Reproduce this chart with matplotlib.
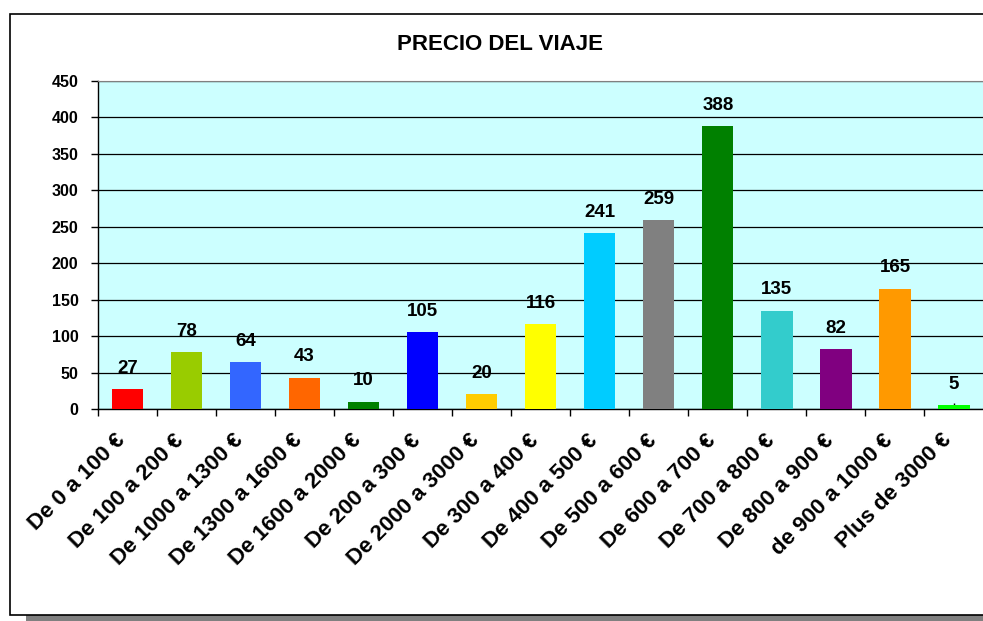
import matplotlib
matplotlib.use("Agg")
import matplotlib.pyplot as plt
from matplotlib.patches import Rectangle
from matplotlib.transforms import ScaledTranslation
import numpy as np

plt.rcParams['font.family'] = ['Liberation Sans', 'DejaVu Sans']
plt.rcParams['font.weight'] = 'bold'

categories = ["De 0 a 100 €", "De 100 a 200 €", "De 1000 a 1300 €", "De 1300 a 1600 €",
              "De 1600 a 2000 €", "De 200 a 300 €", "De 2000 a 3000 €", "De 300 a 400 €",
              "De 400 a 500 €", "De 500 a 600 €", "De 600 a 700 €", "De 700 a 800 €",
              "De 800 a 900 €", "de 900 a 1000 €", "Plus de 3000 €"]
values = [27, 78, 64, 43, 10, 105, 20, 116, 241, 259, 388, 135, 82, 165, 5]
bar_colors = ["#FF0000", "#99CC00", "#3366FF", "#FF6600", "#008000", "#0000FF", "#FFCC00",
              "#FFFF00", "#00CCFF", "#808080", "#008000", "#33CCCC", "#800080", "#FF9900",
              "#00FF00"]
y_ticks = list(range(0, 451, 50))
title = "PRECIO DEL VIAJE"

W, H = 983, 621
fig = plt.figure(figsize=(W / 100, H / 100), dpi=100)
fig.patch.set_facecolor("white")

# chart frame with drop shadow
fig.add_artist(Rectangle((26 / W, 0), 1.0, 6 / H, transform=fig.transFigure,
                         facecolor="#808080", edgecolor="none", zorder=0))
fig.add_artist(Rectangle((10 / W, 1 - 615 / H), 1.2, (615 - 14) / H, transform=fig.transFigure,
                         facecolor="white", edgecolor="black", linewidth=1.2, zorder=0.5))

ax = fig.add_axes([98 / W, 1 - 409 / H, (983.5 - 98) / W, (409 - 81) / H])
ax.set_zorder(1)
ax.set_facecolor("#CCFFFF")

x = np.arange(len(categories))
ax.bar(x, values, width=0.53, color=bar_colors, edgecolor="none", zorder=3)

for xi, v in zip(x, values):
    ax.annotate(str(v), (xi, v), xytext=(0, 9), textcoords="offset points",
                ha="center", va="bottom", fontsize=13.5, fontweight="bold", zorder=4)

ax.set_xlim(-0.5, len(categories) - 0.5)
ax.set_ylim(0, 450)
ax.set_yticks(y_ticks)
ax.set_yticklabels([str(t) for t in y_ticks], fontsize=11.5, fontweight="bold")
ax.yaxis.grid(True, color="black", linewidth=0.9, zorder=1)
ax.set_axisbelow(True)

ax.set_xticks(x)
ax.set_xticklabels(categories, rotation=45, ha="right", rotation_mode="anchor",
                   fontsize=16, fontweight="bold")
ax.set_xticks(np.arange(-0.5, len(categories), 1.0), minor=True)
ax.tick_params(axis="x", which="major", direction="in", length=4, width=1, pad=15)
ax.tick_params(axis="x", which="minor", direction="out", length=5, width=1)
ax.tick_params(axis="y", which="major", direction="out", length=5, width=1, pad=9)

# nudge the slanted category labels left so their ends sit under the bars
shift = ScaledTranslation(-13 / 100, 0, fig.dpi_scale_trans)
for lbl in ax.get_xticklabels():
    lbl.set_transform(lbl.get_transform() + shift)

for side in ("left", "bottom"):
    ax.spines[side].set_color("black")
    ax.spines[side].set_linewidth(1.0)
ax.spines["top"].set_color("#808080")
ax.spines["right"].set_visible(False)

fig.text(500 / W, 1 - 45 / H, title, ha="center", va="center", fontsize=16, fontweight="bold")

fig.savefig("out.png", dpi=100)
